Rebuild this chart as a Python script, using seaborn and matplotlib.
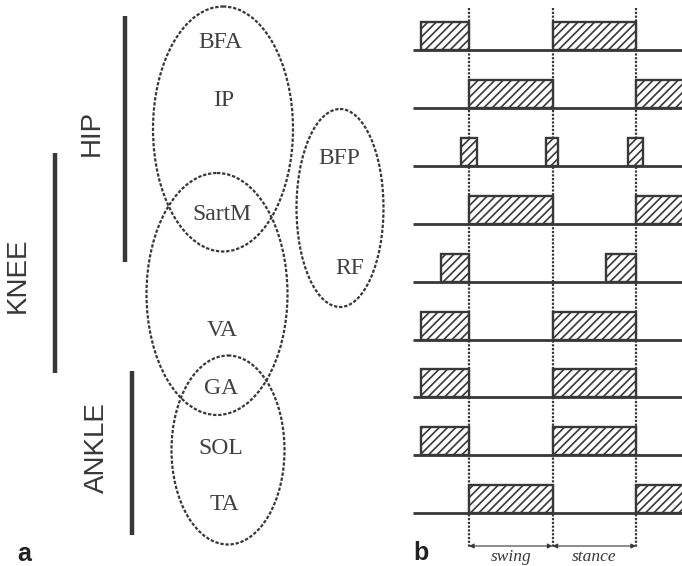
import matplotlib
matplotlib.use("Agg")
import numpy as np
import matplotlib.pyplot as plt
import seaborn as sns
from matplotlib.patches import Ellipse

# ---- data -------------------------------------------------------------
muscles = ["BFA", "IP", "BFP", "SartM", "RF", "VA", "GA", "SOL", "TA"]

# EMG bursts (percent of gait cycle, 0 = toe-off, 50 = heel strike, 100 = toe-off)
burst_muscle = ["BFA", "BFA", "IP", "IP", "BFP", "BFP", "BFP",
                "SartM", "SartM", "RF", "RF", "VA", "VA",
                "GA", "GA", "SOL", "SOL", "TA", "TA"]
burst_start = [-29, 50, 0, 100, -5, 46, 95,
               0, 100, -17, 82, -29, 50,
               -29, 50, -29, 50, 0, 100]
burst_end = [0, 100, 50, 130, 5, 53, 104,
             50, 130, 0, 100, 0, 100,
             0, 100, 0, 100, 50, 130]

phase_marks = [0, 50, 100]
phase_names = ["swing", "stance"]

joint_names = ["HIP", "KNEE", "ANKLE"]

# ---- style ------------------------------------------------------------
sns.set_theme(style="white")
plt.rcParams["font.family"] = ["Liberation Sans", "DejaVu Sans"]
plt.rcParams["hatch.linewidth"] = 1.2
ink = "#383838"
serif = ["Liberation Serif", "DejaVu Serif"]

W, H = 682, 566
fig = plt.figure(figsize=(W / 100, H / 100), dpi=100)
fig.patch.set_facecolor("white")

# ---- panel a: muscle groups around joints (pixel-like coordinates) ----
axa = fig.add_axes([0, 0, 400 / W, 1])
axa.set_xlim(0, 400)
axa.set_ylim(H, 0)
axa.axis("off")

label_x = [220, 224, 339, 222, 350, 222, 221, 221, 224]
label_y = [43, 100, 158, 215, 268, 331, 388, 448, 505]
for name, x, y in zip(muscles, label_x, label_y):
    axa.text(x, y, name, family=serif, fontsize=17, color="#404040",
             ha="center", va="center")

groups = [((223, 129), 140, 245), ((217, 294), 141, 242),
          ((340, 208), 87, 198), ((228, 450), 113, 189)]
for (cx, cy), w, h in groups:
    axa.add_patch(Ellipse((cx, cy), w, h, fill=False, edgecolor=ink,
                          lw=1.6, linestyle=(0, (1.5, 0.8))))

bar_x = [125, 55, 132]
bar_top = [16, 153, 371]
bar_bot = [262, 373, 535]
axa.vlines(bar_x, bar_top, bar_bot, color=ink, lw=3.2)

jl_x = [92, 18, 97]
jl_y = [133, 275, 448]
for name, x, y in zip(joint_names, jl_x, jl_y):
    axa.text(x, y, name, fontsize=20, color=ink, rotation=90,
             ha="center", va="center")

# ---- panel b: activation timing --------------------------------------
row_px0, row_step = 50, 57.9
axb = fig.add_axes([413 / W, 0, (W - 413) / W, 1])
axb.set_xlim(-33.5, 127.5)
axb.set_ylim((H - row_px0) / row_step, -row_px0 / row_step)
axb.axis("off")

rows = {m: i for i, m in enumerate(muscles)}
bar_h = 28 / row_step
for m, s, e in zip(burst_muscle, burst_start, burst_end):
    axb.barh(rows[m] - bar_h / 2, e - s, left=s, height=bar_h,
             facecolor="white", edgecolor=ink, hatch="////", lw=1.7, zorder=2)

axb.hlines(np.arange(len(muscles)), -33.5, 127.5, color=ink, lw=2.0, zorder=3)

y_top = (8 - row_px0) / row_step
y_bot = (548 - row_px0) / row_step
axb.vlines(phase_marks, y_top, y_bot, color=ink, lw=1.6,
           linestyles=(0, (1, 0.7)), zorder=1)

y_arrow = (546 - row_px0) / row_step
y_name = (557 - row_px0) / row_step
for a, b, name in zip(phase_marks[:-1], phase_marks[1:], phase_names):
    axb.annotate("", xy=(b, y_arrow), xytext=(a, y_arrow),
                 arrowprops=dict(arrowstyle="<|-|>", color=ink, lw=0.8,
                                 mutation_scale=7, shrinkA=0, shrinkB=0))
    axb.text((a + b) / 2, y_name, name, family=serif, style="italic",
             fontsize=12.5, color=ink, ha="center", va="center")

# ---- panel letters ----------------------------------------------------
fig.text(17 / W, 1 - 561 / H, "a", fontsize=18, fontweight="bold",
         color="#222222", va="baseline")
fig.text(413 / W, 1 - 560 / H, "b", fontsize=18, fontweight="bold",
         color="#222222", va="baseline")

fig.savefig("out.png", dpi=100, facecolor="white")
